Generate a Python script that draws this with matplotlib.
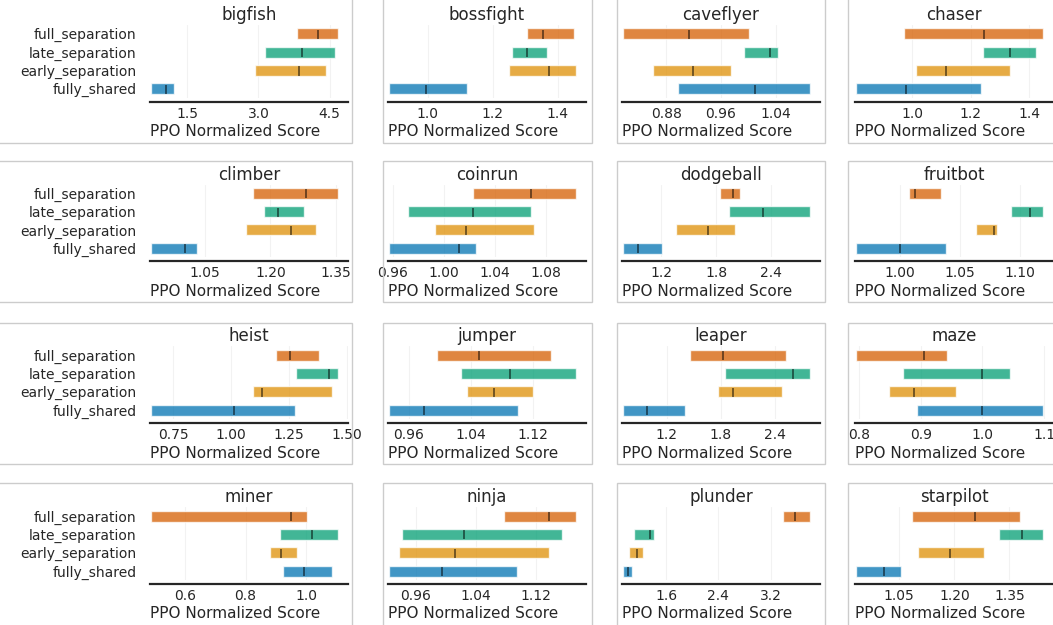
import matplotlib.pyplot as plt
from matplotlib.patches import Rectangle
import seaborn as sns

games = ['bigfish', 'bossfight', 'caveflyer', 'chaser',
         'climber', 'coinrun', 'dodgeball', 'fruitbot',
         'heist', 'jumper', 'leaper', 'maze',
         'miner', 'ninja', 'plunder', 'starpilot']
algorithms = ['fully_shared', 'early_separation', 'late_separation', 'full_separation']

# one row per game, values in the same order as `algorithms`
lower = [
    [0.736, 2.93, 3.13, 3.81],
    [0.880, 1.249, 1.260, 1.306],
    [0.897, 0.8606, 0.994, 0.8165],
    [0.8069, 1.0114, 1.2434, 0.9714],
    [0.9278, 1.1449, 1.1867, 1.1616],
    [0.9569, 0.9927, 0.972, 1.023],
    [0.783, 1.364, 1.942, 1.844],
    [0.9633, 1.0636, 1.0928, 1.0075],
    [0.6552, 1.0948, 1.2787, 1.1925],
    [0.9342, 1.0353, 1.0271, 0.9961],
    [0.717, 1.767, 1.851, 1.461],
    [0.894, 0.8486, 0.8708, 0.7946],
    [0.9244, 0.8795, 0.9145, 0.4893],
    [0.9246, 0.9383, 0.9423, 1.0771],
    [0.938, 1.035, 1.111, 3.389],
    [0.9318, 1.100, 1.3218, 1.0845],
]
median = [
    [1.05, 3.85, 3.92, 4.25],
    [0.995, 1.372, 1.306, 1.355],
    [1.010, 0.919, 1.0315, 0.913],
    [0.979, 1.1143, 1.3337, 1.2446],
    [1.006, 1.2474, 1.217, 1.2816],
    [1.012, 1.0175, 1.0227, 1.0682],
    [0.946, 1.708, 2.309, 1.978],
    [1.000, 1.0783, 1.1083, 1.0125],
    [1.0129, 1.1322, 1.4224, 1.2529],
    [0.9798, 1.0697, 1.0899, 1.0503],
    [0.982, 1.933, 2.602, 1.829],
    [0.9995, 0.8892, 1.000, 0.9054],
    [0.9923, 0.9178, 1.0186, 0.9507],
    [0.9954, 1.0126, 1.0236, 1.1368],
    [1.015, 1.152, 1.345, 3.573],
    [1.0091, 1.1873, 1.3845, 1.2564],
]
upper = [
    [1.227, 4.42, 4.61, 4.67],
    [1.121, 1.455, 1.367, 1.451],
    [1.0897, 0.9746, 1.0427, 1.0016],
    [1.2343, 1.3337, 1.424, 1.4469],
    [1.0333, 1.3036, 1.2763, 1.3537],
    [1.0248, 1.0706, 1.0685, 1.1033],
    [1.211, 2.007, 2.818, 2.062],
    [1.0383, 1.0811, 1.1189, 1.0339],
    [1.2759, 1.4339, 1.4598, 1.3779],
    [1.1002, 1.120, 1.175, 1.1428],
    [1.406, 2.477, 2.783, 2.518],
    [1.0978, 0.9578, 1.0449, 0.9422],
    [1.0833, 0.9682, 1.103, 1.0022],
    [1.0944, 1.1372, 1.154, 1.1722],
    [1.070, 1.249, 1.417, 3.798],
    [1.0536, 1.280, 1.4409, 1.3791],
]
xticks = [
    ['1.5', '3.0', '4.5'],
    ['1.0', '1.2', '1.4'],
    ['0.88', '0.96', '1.04'],
    ['1.0', '1.2', '1.4'],
    ['1.05', '1.20', '1.35'],
    ['0.96', '1.00', '1.04', '1.08'],
    ['1.2', '1.8', '2.4'],
    ['1.00', '1.05', '1.10'],
    ['0.75', '1.00', '1.25', '1.50'],
    ['0.96', '1.04', '1.12'],
    ['1.2', '1.8', '2.4'],
    ['0.8', '0.9', '1.0', '1.1'],
    ['0.6', '0.8', '1.0'],
    ['0.96', '1.04', '1.12'],
    ['1.6', '2.4', '3.2'],
    ['1.05', '1.20', '1.35'],
]

sns.set_style('white')
plt.rcParams['font.family'] = ['DejaVu Sans']
colors = sns.color_palette('colorblind', n_colors=len(algorithms))
ink = '0.15'

W, H = 1053, 625
fig = plt.figure(figsize=(W / 100, H / 100), dpi=100)

# panel layout in pixels
col_left = [150, 388, 622, 855]
row_top = [25, 184.5, 346.3, 507.2]
ax_w, ax_h = 198, 72.6
frame_x = [(-2, 352), (383, 592), (617, 825), (848, 1056)]
frame_y = [(-2, 143), (161, 302), (323, 464), (483, 627)]

h = 0.6
for k, game in enumerate(games):
    r, c = divmod(k, 4)
    ax = fig.add_axes([col_left[c] / W, 1 - (row_top[r] + ax_h) / H, ax_w / W, ax_h / H])
    for i, alg in enumerate(algorithms):
        lo, mid, hi = lower[k][i], median[k][i], upper[k][i]
        ax.barh(y=i, width=hi - lo, left=lo, height=h, color=colors[i], alpha=0.75)
        ax.vlines(x=mid, ymin=i - 7.5 * h / 16, ymax=i + 6 * h / 16,
                  color='k', alpha=0.5, lw=1.4)

    lo_all, hi_all = min(lower[k]), max(upper[k])
    span = hi_all - lo_all
    ax.set_xlim(lo_all - 0.005 * span, hi_all + 0.055 * span)
    ax.set_xticks([float(t) for t in xticks[k]])
    ax.set_xticklabels(xticks[k], fontsize=11, color=ink)

    if c == 0:
        ax.set_yticks(range(len(algorithms)))
        ax.set_yticklabels(algorithms, fontsize=12, color=ink)
    else:
        ax.set_yticks([])

    ax.set_title(game, fontsize=12, color=ink, pad=3.5)
    ax.set_xlabel('PPO Normalized Score', fontsize=11, color=ink, loc='left', labelpad=2.5)

    ax.spines['right'].set_visible(False)
    ax.spines['top'].set_visible(False)
    ax.spines['left'].set_visible(False)
    ax.spines['bottom'].set_linewidth(1.6)
    ax.spines['bottom'].set_color(ink)
    ax.spines['bottom'].set_position(('outward', 3))
    ax.spines['left'].set_position(('outward', 6))
    ax.tick_params(length=0.1, width=0.1)
    ax.set_axisbelow(True)
    ax.grid(True, axis='x', alpha=0.25)

    x0, x1 = frame_x[c]
    y0, y1 = frame_y[r]
    fig.patches.append(Rectangle((x0 / W, 1 - y1 / H), (x1 - x0) / W, (y1 - y0) / H,
                                 transform=fig.transFigure, fill=False,
                                 edgecolor='0.8', lw=1.0))

fig.savefig('out.png', dpi=100)
